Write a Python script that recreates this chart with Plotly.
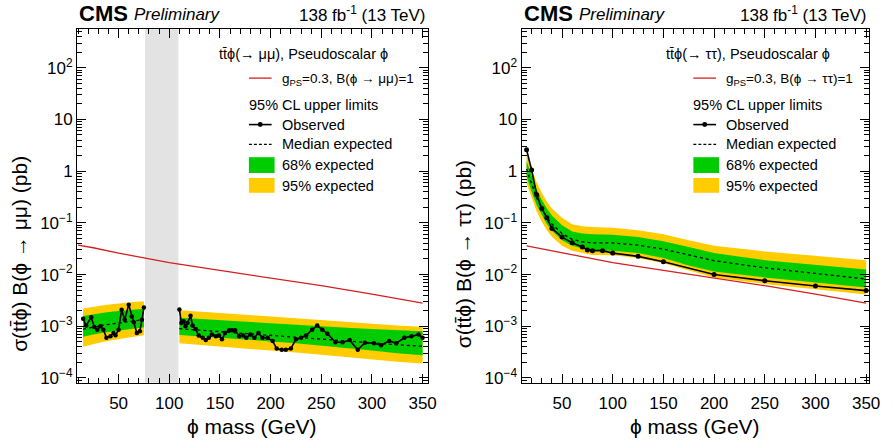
import plotly.graph_objects as go

W, H = 894, 444
FONT = "Liberation Sans, Arial, Helvetica, sans-serif"

# ---------------- data: tt phi (-> mu mu) ----------------
mm_obs_mass_lo = [15, 18, 23, 26, 29, 32, 35, 38, 42, 45, 47, 50, 53, 56, 60, 63, 65, 68, 71, 73, 75]
mm_obs_lo = [1.4e-3, 1.03e-3, 1.5e-3, 0.97e-3, 0.86e-3, 1.0e-3, 0.86e-3, 0.6e-3, 0.64e-3, 0.74e-3,
             0.67e-3, 0.86e-3, 2.08e-3, 1.34e-3, 2.6e-3, 1.55e-3, 1.19e-3, 0.74e-3, 0.8e-3, 1.34e-3, 2.3e-3]
mm_obs_mass_hi = [110, 112, 114, 116, 118, 121, 123, 126, 129, 133, 136, 139, 142, 146, 149, 152, 155,
                  159, 162, 165, 169, 173, 176, 180, 184, 188, 192, 197, 202, 206, 211, 215, 220, 225,
                  230, 235, 241, 246, 251, 256, 264, 271, 278, 286, 293, 302, 309, 317, 324, 332, 339, 346, 350]
mm_obs_hi = [2.1e-3, 1.16e-3, 1.25e-3, 1.0e-3, 1.16e-3, 1.6e-3, 1.03e-3, 0.89e-3, 0.66e-3, 0.6e-3,
             0.54e-3, 0.6e-3, 0.69e-3, 0.64e-3, 0.66e-3, 0.56e-3, 0.74e-3, 0.84e-3, 0.84e-3, 0.84e-3,
             0.64e-3, 0.66e-3, 0.6e-3, 0.69e-3, 0.6e-3, 0.74e-3, 0.6e-3, 0.6e-3, 0.52e-3, 0.37e-3,
             0.35e-3, 0.35e-3, 0.37e-3, 0.56e-3, 0.6e-3, 0.66e-3, 0.86e-3, 1.03e-3, 0.86e-3, 0.72e-3,
             0.49e-3, 0.49e-3, 0.54e-3, 0.35e-3, 0.48e-3, 0.47e-3, 0.43e-3, 0.52e-3, 0.47e-3, 0.6e-3,
             0.64e-3, 0.69e-3, 0.6e-3]

mm_exp_mass_lo = [15, 25, 35, 45, 55, 65, 75]
mm_exp_lo = [0.88e-3, 0.97e-3, 1.05e-3, 1.12e-3, 1.2e-3, 1.28e-3, 1.35e-3]
mm_p2_lo = [2.2e-3, 2.4e-3, 2.55e-3, 2.7e-3, 2.85e-3, 2.95e-3, 3.05e-3]
mm_p1_lo = [1.58e-3, 1.72e-3, 1.82e-3, 1.92e-3, 2.02e-3, 2.1e-3, 2.18e-3]
mm_m1_lo = [0.63e-3, 0.69e-3, 0.75e-3, 0.8e-3, 0.85e-3, 0.91e-3, 0.96e-3]
mm_m2_lo = [0.4e-3, 0.45e-3, 0.5e-3, 0.54e-3, 0.59e-3, 0.63e-3, 0.67e-3]

mm_exp_mass_hi = [110, 130, 150, 175, 200, 225, 250, 275, 300, 325, 350]
mm_exp_hi = [0.9e-3, 0.84e-3, 0.78e-3, 0.72e-3, 0.67e-3, 0.62e-3, 0.57e-3, 0.52e-3, 0.48e-3, 0.44e-3, 0.41e-3]
mm_p2_hi = [2.05e-3, 1.92e-3, 1.8e-3, 1.66e-3, 1.53e-3, 1.41e-3, 1.3e-3, 1.2e-3, 1.12e-3, 1.04e-3, 0.98e-3]
mm_p1_hi = [1.46e-3, 1.38e-3, 1.3e-3, 1.21e-3, 1.13e-3, 1.07e-3, 1.0e-3, 0.94e-3, 0.89e-3, 0.84e-3, 0.8e-3]
mm_m1_hi = [0.68e-3, 0.64e-3, 0.6e-3, 0.55e-3, 0.51e-3, 0.47e-3, 0.42e-3, 0.38e-3, 0.34e-3, 0.3e-3, 0.275e-3]
mm_m2_hi = [0.47e-3, 0.44e-3, 0.41e-3, 0.37e-3, 0.34e-3, 0.31e-3, 0.28e-3, 0.25e-3, 0.225e-3, 0.205e-3, 0.19e-3]

mm_veto = [76, 109]

# ---------------- data: tt phi (-> tau tau) ----------------
tt_obs_mass = [15, 20, 25, 30, 35, 40, 50, 60, 70, 75, 80, 90, 100, 125, 150, 200, 250, 300, 350]
tt_obs = [2.6, 1.05, 0.35, 0.19, 0.125, 0.078, 0.053, 0.041, 0.034, 0.030, 0.029, 0.029, 0.026,
          0.0225, 0.0177, 0.0100, 0.0076, 0.0060, 0.0049]

tt_exp_mass = [15, 20, 25, 30, 35, 40, 50, 60, 70, 80, 100, 125, 150, 175, 200, 250, 300, 350]
tt_exp = [1.1, 0.55, 0.3, 0.19, 0.13, 0.095, 0.062, 0.048, 0.043, 0.041, 0.041, 0.037, 0.031, 0.024,
          0.0185, 0.0135, 0.0105, 0.0082]
tt_p2 = [2.1, 1.1, 0.6, 0.38, 0.26, 0.19, 0.125, 0.094, 0.086, 0.083, 0.08, 0.072, 0.06, 0.046,
         0.036, 0.028, 0.023, 0.019]
tt_p1 = [1.55, 0.8, 0.44, 0.28, 0.19, 0.138, 0.09, 0.068, 0.062, 0.06, 0.059, 0.053, 0.044, 0.034,
         0.026, 0.019, 0.0155, 0.0125]
tt_m1 = [0.8, 0.4, 0.22, 0.14, 0.095, 0.07, 0.046, 0.036, 0.032, 0.03, 0.029, 0.026, 0.021, 0.015,
         0.0115, 0.0088, 0.007, 0.0056]
tt_m2 = [0.58, 0.3, 0.165, 0.105, 0.072, 0.054, 0.036, 0.029, 0.026, 0.024, 0.0235, 0.021, 0.0165,
         0.012, 0.0088, 0.0066, 0.0052, 0.0041]

# ---------------- signal model (g_PS = 0.3, B = 1) ----------------
sig_mass = [10, 15, 25, 50, 75, 100, 150, 200, 250, 300, 350]
sig_xs = [0.037, 0.036, 0.033, 0.026, 0.021, 0.017, 0.012, 0.0087, 0.0061, 0.0042, 0.0028]

# axis ticks
x_major = [50, 100, 150, 200, 250, 300, 350]
y_major = [1e-4, 1e-3, 1e-2, 1e-1, 1, 10, 100]
y_major_text = ["10<sup>\u22124</sup>", "10<sup>\u22123</sup>", "10<sup>\u22122</sup>",
                "10<sup>\u22121</sup>", "1", "10", "10<sup>2</sup>"]

YELLOW = "#FFCC00"
GREEN = "#00CC00"
RED = "#D42020"
GRAY = "#E3E3E3"
PHI = "\u03d5"

# ---------------- geometry (pixels) ----------------
FR_TOP, FR_BOT = 29, 387
PANELS = [dict(l=78, r=433, xr=[9, 355]), dict(l=528, r=880, xr=[10, 353])]


def px(x):
    return x / W


def py(y):
    return 1 - y / H


fig = go.Figure()


def band(xs, lo, hi, color, xa, ya):
    fig.add_trace(go.Scatter(x=list(xs) + list(xs)[::-1], y=list(hi) + list(lo)[::-1],
                             fill="toself", fillcolor=color, mode="lines", line=dict(width=0),
                             hoverinfo="skip", showlegend=False, xaxis=xa, yaxis=ya))


def line(xs, ys, xa, ya, **kw):
    fig.add_trace(go.Scatter(x=xs, y=ys, showlegend=False, xaxis=xa, yaxis=ya, **kw))


# left panel
for xs, med, p2, p1, m1, m2 in [(mm_exp_mass_lo, mm_exp_lo, mm_p2_lo, mm_p1_lo, mm_m1_lo, mm_m2_lo),
                                (mm_exp_mass_hi, mm_exp_hi, mm_p2_hi, mm_p1_hi, mm_m1_hi, mm_m2_hi)]:
    band(xs, m2, p2, YELLOW, "x", "y")
    band(xs, m1, p1, GREEN, "x", "y")
    line(xs, med, "x", "y", mode="lines", line=dict(color="black", width=1.3, dash="3px,3px"))
line(sig_mass, sig_xs, "x", "y", mode="lines", line=dict(color=RED, width=1.3))
for xs, ys in [(mm_obs_mass_lo, mm_obs_lo), (mm_obs_mass_hi, mm_obs_hi)]:
    line(xs, ys, "x", "y", mode="lines+markers", line=dict(color="black", width=1.6),
         marker=dict(color="black", size=4.5))

# right panel
band(tt_exp_mass, tt_m2, tt_p2, YELLOW, "x2", "y2")
band(tt_exp_mass, tt_m1, tt_p1, GREEN, "x2", "y2")
line(tt_exp_mass, tt_exp, "x2", "y2", mode="lines", line=dict(color="black", width=1.3, dash="3px,3px"))
line(sig_mass[1:], sig_xs[1:], "x2", "y2", mode="lines", line=dict(color=RED, width=1.3))
line(tt_obs_mass, tt_obs, "x2", "y2", mode="lines+markers", line=dict(color="black", width=1.6),
     marker=dict(color="black", size=5))

# gray veto band
fig.add_shape(type="rect", xref="x", yref="paper", x0=mm_veto[0], x1=mm_veto[1],
              y0=py(FR_BOT), y1=py(FR_TOP), fillcolor=GRAY, line=dict(width=0), layer="below")

x_minor = [v for v in range(10, 360, 10) if v % 50 != 0]
y_minor = [k * 10.0 ** e for e in range(-5, 3) for k in range(2, 10)]


def xaxis(p, anchor):
    return dict(domain=[px(p["l"]), px(p["r"])], range=p["xr"], anchor=anchor,
                tickmode="array", tickvals=x_major, ticks="inside", ticklen=9, tickwidth=1,
                tickcolor="black", showline=True, linecolor="black", linewidth=1, mirror="allticks",
                showgrid=False, zeroline=False, ticklabelstandoff=5,
                tickfont=dict(family=FONT, size=17, color="black"),
                minor=dict(tickmode="array", tickvals=x_minor, ticks="inside", ticklen=5,
                           tickcolor="black", showgrid=False))


def yaxis(anchor):
    return dict(domain=[py(FR_BOT), py(FR_TOP)], type="log", range=[-4.09, 2.755], anchor=anchor,
                tickmode="array", tickvals=y_major, ticktext=y_major_text, ticks="inside",
                ticklen=9, tickwidth=1, tickcolor="black", showline=True, linecolor="black",
                linewidth=1, mirror="allticks", showgrid=False, zeroline=False,
                tickfont=dict(family=FONT, size=17, color="black"),
                minor=dict(tickmode="array", tickvals=y_minor, ticks="inside", ticklen=5,
                           tickcolor="black", showgrid=False))


fig.update_layout(
    width=W, height=H, margin=dict(l=0, r=0, t=0, b=0),
    paper_bgcolor="white", plot_bgcolor="rgba(0,0,0,0)",
    xaxis=xaxis(PANELS[0], "y"), yaxis=yaxis("x"),
    xaxis2=xaxis(PANELS[1], "y2"), yaxis2=yaxis("x2"),
    showlegend=False,
)


def text(x, y, s, size, xanchor="left", **kw):
    fig.add_annotation(x=px(x), y=py(y), xref="paper", yref="paper", text=s, showarrow=False,
                       xanchor=xanchor, yanchor="middle",
                       font=dict(family=FONT, size=size, color="black"), **kw)


def hline(x0, x1, y, color, width, dash="solid"):
    fig.add_shape(type="line", xref="paper", yref="paper", x0=px(x0), x1=px(x1), y0=py(y), y1=py(y),
                  line=dict(color=color, width=width, dash=dash))


def box(x0, x1, y0, y1, color):
    fig.add_shape(type="rect", xref="paper", yref="paper", x0=px(x0), x1=px(x1), y0=py(y1), y1=py(y0),
                  fillcolor=color, line=dict(width=0))


titles = ["t\u0074\u0304" + PHI + "(\u2192 \u03bc\u03bc), Pseudoscalar " + PHI,
          "t\u0074\u0304" + PHI + "(\u2192 \u03c4\u03c4), Pseudoscalar " + PHI]
sigtxt = ["g<sub>PS</sub>=0.3, B(" + PHI + " \u2192 \u03bc\u03bc)=1",
          "g<sub>PS</sub>=0.3, B(" + PHI + " \u2192 \u03c4\u03c4)=1"]
ytitles = ["\u03c3(t\u0074\u0304" + PHI + ") B(" + PHI + " \u2192 \u03bc\u03bc) (pb)",
           "\u03c3(t\u0074\u0304" + PHI + ") B(" + PHI + " \u2192 \u03c4\u03c4) (pb)"]

for i, p in enumerate(PANELS):
    L, R = p["l"], p["r"]
    # header
    text(L, 14, "<b>CMS</b>", 22)
    text(L + 56, 15, "<i>Preliminary</i>", 17)
    text(R, 14, "138 fb<sup>-1</sup> (13 TeV)", 17, xanchor="right")
    # axis titles
    text((L + R) / 2, 431, PHI + " mass (GeV)", 21, xanchor="center")
    text(L - 59, 257, ytitles[i], 21, xanchor="center", textangle=-90)
    # legend
    lx = L + 174
    text(R - 38, 55, titles[i], 14.5, xanchor="right")
    hline(lx, lx + 23, 79, RED, 1.3)
    text(lx + 31, 80, sigtxt[i], 13.5)
    text(lx - 2, 106, "95% CL upper limits", 14.5)
    hline(lx, lx + 23, 126, "black", 1.6)
    fig.add_shape(type="circle", xref="paper", yref="paper", x0=px(lx + 9), x1=px(lx + 14),
                  y0=py(128.5), y1=py(123.5), fillcolor="black", line=dict(width=0))
    text(lx + 31, 126, "Observed", 14.5)
    hline(lx, lx + 23, 146, "black", 1.2, dash="3px,2px")
    text(lx + 31, 146, "Median expected", 14.5)
    box(lx, lx + 26, 159, 175, GREEN)
    text(lx + 31, 167, "68% expected", 14.5)
    box(lx, lx + 26, 180, 195, YELLOW)
    text(lx + 31, 188, "95% expected", 14.5)

fig.write_html("out.html")
